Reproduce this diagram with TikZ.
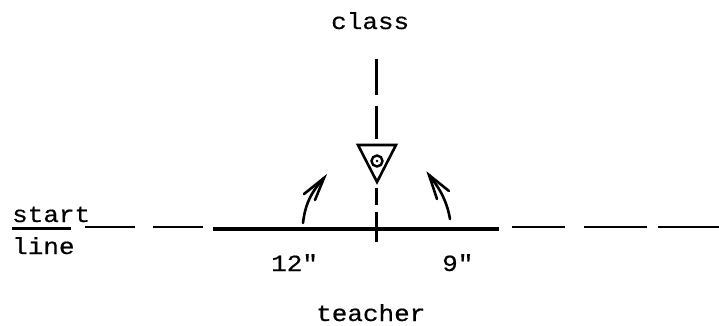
\documentclass[tikz,border=0pt]{standalone}
\usepackage{fontspec}
\setmonofont[FakeStretch=1.12,FakeBold=0.5]{Liberation Mono}
\begin{document}
\begin{tikzpicture}[x=1pt,y=-1pt,
  label/.style={inner sep=0pt,anchor=base west,font=\ttfamily\fontsize{23.2}{26}\selectfont},
  dashline/.style={line width=2.2pt,black},
  thick line/.style={line width=4pt,black},
  shape line/.style={line width=2.6pt,black,line join=miter},
  turn/.style={line width=2.6pt,black,line cap=round}]
\useasboundingbox (0,0) rectangle (719,325);
% texts
\node[label] (class) at (331,29) {class};
\node[label] (start) at (12,222) {start};
\node[label] (line) at (12,254) {line};
\node[label] (twelve) at (271,271) {12"};
\node[label] (nine) at (442,271) {9"};
\node[label] (teacher) at (316,321) {teacher};
\draw[dashline] (12,228.5) -- (71,228.5);
% start line
\foreach \a/\b/\n in {85/135/a,153/203/b,512/565/c,584/647/d,658/719/e}{
  \coordinate (h\n1) at (\a,227);
  \coordinate (h\n2) at (\b,227);
  \draw[dashline] (h\n1) -- (h\n2);
}
\coordinate (bar1) at (213,228.5);
\coordinate (bar2) at (499,228.5);
\draw[thick line] (bar1) -- (bar2);
% axis
\foreach \a/\b/\n in {59/95/a,106/139/b,188/205/c,212/242/d}{
  \coordinate (v\n1) at (376.5,\a);
  \coordinate (v\n2) at (376.5,\b);
  \draw[dashline] (v\n1) -- (v\n2);
}
% triangle and circle
\coordinate (t1) at (358,145);
\coordinate (t2) at (396,145);
\coordinate (t3) at (377,182);
\draw[shape line] (t1) -- (t2) -- (t3) -- cycle;
\node[circle,draw,line width=2.4pt,minimum size=11pt,inner sep=0pt] (eye) at (377,161) {};
\fill (377,161) circle (1.4pt);
% arrows
\coordinate (la) at (303,223);
\coordinate (lb) at (324,178);
\coordinate (ra) at (450,219);
\coordinate (rb) at (429,175);
\draw[turn] (la) .. controls (305,205) and (311,192) .. (lb);
\draw[turn] (304,194) -- (lb) -- (315,200);
\draw[turn] (ra) .. controls (447,202) and (441,190) .. (rb);
\draw[turn] (449,191) -- (rb) -- (437,199);
\end{tikzpicture}
\end{document}
